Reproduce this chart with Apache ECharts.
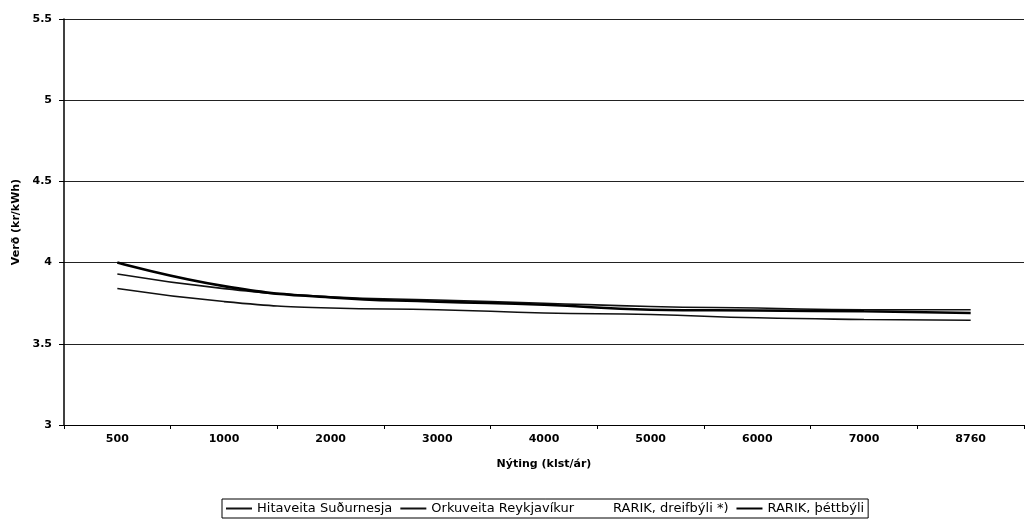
<!DOCTYPE html>
<html>
<head>
<meta charset="utf-8">
<script src="https://cdn.jsdelivr.net/npm/echarts@6/dist/echarts.min.js"></script>
<style>html,body{margin:0;padding:0;background:#fff}#c{width:1026px;height:524px}</style>
</head>
<body>
<div id="c"></div>
<script>
var categories = ['500','1000','2000','3000','4000','5000','6000','7000','8760'];
var hitaveita = [3.84, 3.76, 3.72, 3.71, 3.69, 3.68, 3.66, 3.65, 3.645];
var orkuveita = [3.93, 3.84, 3.79, 3.77, 3.75, 3.73, 3.72, 3.71, 3.71];
var rarikDreif = [3.93, 3.84, 3.79, 3.77, 3.75, 3.73, 3.72, 3.71, 3.71];
var rarikThett = [4.00, 3.855, 3.785, 3.76, 3.74, 3.71, 3.705, 3.70, 3.69];
var names = ['Hitaveita Suðurnesja','Orkuveita Reykjavíkur','RARIK, dreifbýli *)','RARIK, þéttbýli'];

var chart = echarts.init(document.getElementById('c'), null, {renderer:'canvas'});
var font = 'DejaVu Sans';
chart.setOption({
  animation:false,
  backgroundColor:'#fff',
  grid:{left:64, right:2, top:19, bottom:99},
  legend:{
    data:[
      {name:names[0], icon:'rect'},
      {name:names[1], icon:'rect'},
      {name:names[2], icon:'rect'},
      {name:names[3], icon:'rect'}
    ],
    left:222, top:499,
    orient:'horizontal',
    borderColor:'#000', borderWidth:1, borderRadius:0,
    padding:[3,4],
    itemWidth:26, itemHeight:2, itemGap:8,
    textStyle:{fontFamily:font, fontSize:13, color:'#000'}
  },
  xAxis:{
    type:'category', data:categories, boundaryGap:true,
    name:'Nýting (klst/ár)', nameLocation:'middle', nameGap:34,
    nameTextStyle:{fontFamily:font, fontSize:11, fontWeight:'bold', color:'#000'},
    axisLine:{lineStyle:{color:'#000', width:1}},
    axisTick:{show:true, length:4, alignWithLabel:false, lineStyle:{color:'#000'}},
    axisLabel:{fontFamily:font, fontSize:11, fontWeight:'bold', color:'#000', margin:9},
    splitLine:{show:false}
  },
  yAxis:{
    type:'value', min:3, max:5.5, interval:0.5,
    name:'Verð (kr/kWh)', nameLocation:'middle', nameGap:42, nameRotate:90,
    nameTextStyle:{fontFamily:font, fontSize:11, fontWeight:'bold', color:'#000'},
    axisLine:{show:true, lineStyle:{color:'#000', width:1.5}},
    axisTick:{show:true, length:5, lineStyle:{color:'#000'}},
    axisLabel:{fontFamily:font, fontSize:11, fontWeight:'bold', color:'#000', margin:12},
    splitLine:{show:true, lineStyle:{color:'#222', width:1}}
  },
  series:[
    {name:names[2], type:'line', data:rarikDreif, smooth:true, symbol:'none', showSymbol:false,
      lineStyle:{color:'#ffffff', width:1}, itemStyle:{color:'#ffffff'}, z:1},
    {name:names[0], type:'line', data:hitaveita, smooth:true, symbol:'none', showSymbol:false,
      lineStyle:{color:'#111', width:1.6}, itemStyle:{color:'#111'}, z:2},
    {name:names[1], type:'line', data:orkuveita, smooth:true, symbol:'none', showSymbol:false,
      lineStyle:{color:'#111', width:1.6}, itemStyle:{color:'#111'}, z:3},
    {name:names[3], type:'line', data:rarikThett, smooth:true, symbol:'none', showSymbol:false,
      lineStyle:{color:'#000', width:2.6}, itemStyle:{color:'#000'}, z:4}
  ]
});
</script>
</body>
</html>
